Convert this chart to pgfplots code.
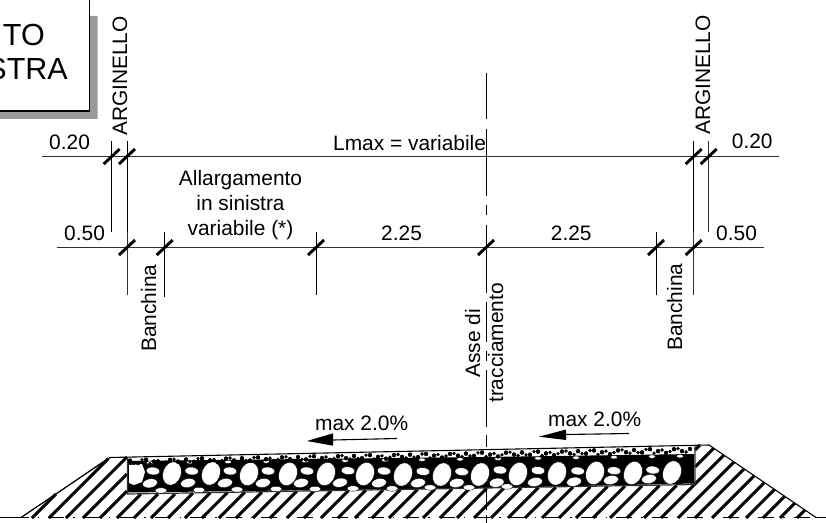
\documentclass[border=0pt]{standalone}
\usepackage{pgfplots}
\pgfplotsset{compat=1.18}
\usepackage{fontspec}
\setmainfont{Liberation Sans}
\definecolor{dimline}{HTML}{303030}
\definecolor{shadow}{HTML}{999999}
\tikzset{
  lbl/.style={font=\fontsize{20.9bp}{24bp}\selectfont, inner sep=0pt},
  big/.style={font=\fontsize{30.5bp}{34bp}\selectfont, inner sep=0pt},
}
\begin{document}
\begin{tikzpicture}
\useasboundingbox (0,0) rectangle (826bp,523bp);
\clip (0,0) rectangle (826bp,523bp);
\begin{axis}[
    at={(0,0)}, anchor=south west,
    scale only axis, width=826bp, height=523bp,
    xmin=0, xmax=826, ymin=0, ymax=523,
    y dir=reverse, hide axis,
    unbounded coords=jump,
]
% title box and its shadow
\addplot[fill=shadow, draw=none] coordinates {(90,16)(97.5,16)(97.5,119)(0,119)(0,111)(90,111)(90,16)};
\addplot[black, line width=1.1bp] coordinates {(89.7,0)(89.7,111)(0,111)};

% dimension lines
\addplot[dimline, line width=1.1bp] coordinates {
 (42,156.3)(779,156.3)(nan,nan)
 (57,247.5)(764,247.5)};

% extension lines
\addplot[black, line width=1.1bp] coordinates {
 (111.7,141)(111.7,232)(nan,nan)
 (127.4,141)(127.4,232)(nan,nan)
 (693.7,141)(693.7,232)(nan,nan)
 (164.7,232)(164.7,297)};
\addplot[black, line width=0.8bp] coordinates {
 (316,232)(316,295)(nan,nan)
 (656,232)(656,295)};
\addplot[dimline, line width=1bp] coordinates {
 (127.4,232)(127.4,295)(nan,nan)
 (693.7,232)(693.7,295)(nan,nan)
 (708.7,141)(708.7,232)};

% slashes
\addplot[black, line width=2.9bp] coordinates {
 (103.7,164)(119.7,149)(nan,nan)
 (119,164)(135,149)(nan,nan)
 (685.7,164)(701.7,149)(nan,nan)
 (700.7,164)(716.7,149)(nan,nan)
 (119,255)(135,240)(nan,nan)
 (156.7,255)(172.7,240)(nan,nan)
 (308,255)(324,240)(nan,nan)
 (478,255)(494,240)(nan,nan)
 (648,255)(664,240)(nan,nan)
 (685.7,255)(701.7,240)};

% centre line
\addplot[black, line width=0.8bp] coordinates {
 (486,73)(486,119)(nan,nan)
 (486,129)(486,196)(nan,nan)
 (486,205)(486,215)(nan,nan)
 (486,225)(486,293)(nan,nan)
 (486,302)(486,342)(nan,nan)
 (486,351)(486,361)(nan,nan)
 (486,370)(486,427)(nan,nan)
 (486,435)(486,447)(nan,nan)
 (486,455)(486,510)(nan,nan)
 (486,515)(486,523)};

% hatching of the embankment
\addplot[black, line width=2.9bp] coordinates {
 (32,518)(56,494)(nan,nan)
 (49,518)(108.5,458.5)(nan,nan)
 (66,518)(127,457)(nan,nan)
 (83,518)(127,474)(nan,nan)
 (100,518)(127,491)(nan,nan)
 (117,518)(141,494)(nan,nan)
 (134,518)(158,494)(nan,nan)
 (151,518)(175,494)(nan,nan)
 (168,518)(193,493)(nan,nan)
 (185,518)(210.3,492.7)(nan,nan)
 (202,518)(227.5,492.5)(nan,nan)
 (219,518)(245,492)(nan,nan)
 (236,518)(262,492)(nan,nan)
 (253,518)(279.4,491.6)(nan,nan)
 (270,518)(296.7,491.3)(nan,nan)
 (287,518)(314,491)(nan,nan)
 (304,518)(331.2,490.8)(nan,nan)
 (321,518)(348.5,490.5)(nan,nan)
 (338,518)(365.8,490.2)(nan,nan)
 (355,518)(383,490)(nan,nan)
 (372,518)(400.4,489.6)(nan,nan)
 (389,518)(417.7,489.3)(nan,nan)
 (406,518)(435,489)(nan,nan)
 (423,518)(452,489)(nan,nan)
 (440,518)(469.3,488.7)(nan,nan)
 (457,518)(486.6,488.4)(nan,nan)
 (474,518)(503.9,488.1)(nan,nan)
 (491,518)(521.2,487.8)(nan,nan)
 (508,518)(538.5,487.5)(nan,nan)
 (525,518)(555.8,487.2)(nan,nan)
 (542,518)(573,487)(nan,nan)
 (559,518)(590.3,486.7)(nan,nan)
 (576,518)(607.6,486.4)(nan,nan)
 (593,518)(624.8,486.2)(nan,nan)
 (610,518)(642.1,485.9)(nan,nan)
 (627,518)(659.4,485.6)(nan,nan)
 (644,518)(676.7,485.3)(nan,nan)
 (661,518)(724,455)(nan,nan)
 (678,518)(734,462)(nan,nan)
 (695,518)(744,469)(nan,nan)
 (712,518)(754,476)(nan,nan)
 (729,518)(764.5,482.5)(nan,nan)
 (746,518)(774.6,489.4)(nan,nan)
 (763,518)(784.7,496.3)(nan,nan)
 (780,518)(794.8,503.2)(nan,nan)
 (797,518)(805,510)(nan,nan)
 (695,467)(713.7,448.3)(nan,nan)
 (695,450)(700,445)};

% ground
\addplot[black, line width=1.1bp] coordinates {(0,517.7)(21,517.7)(nan,nan)(816,517.7)(826,517.7)};
\addplot[black, line width=1.1bp, dash pattern=on 16bp off 9bp on 1.5bp off 9bp, dash phase=-27bp] coordinates {(21,517.7)(816,517.7)};

% slopes
\addplot[black, line width=1.1bp] coordinates {(21,517.5)(110,457.5)(709,445)(816,517.5)};
\addplot[black, line width=0.8bp] coordinates {(21,517.5)(53,496)(107,459)};

% macadam layer
\addplot[fill=black, draw=none] coordinates {(128,461)(486,457)(694,454)(694,483.5)(486,488)(128,492.5)(128,461)};

% large stones
\addplot[only marks, mark=*, mark size=12bp, mark options={fill=white, draw=none, rotate=-20, xscale=0.76}] coordinates {
 (172,473.5)(211,473.5)(249,474)(288,474)(326,474)(365,474)(403,474.5)(442,474.5)(480,474.5)(518,474)(557,473.5)(595,473)(633,473)(672,472.5)};
\addplot[fill=white, draw=none] coordinates {(129,465)(142,464)(145,472)(142,482)(134,485)(129,483)(129,465)};

% small stones, upper row
\addplot[only marks, mark=*, mark size=6.8bp, mark options={fill=white, draw=none, rotate=-5, yscale=0.58}] coordinates {
 (153,471)(191.7,471)(230,471)(268,471)(307,471)(348,470.7)(384,471)(423,471.5)(461.7,471.7)(500,470)(538,470.5)(577.7,471)(614,470.7)(652.7,470)};
% small stones, lower row
\addplot[only marks, mark=*, mark size=7.5bp, mark options={fill=white, draw=none, rotate=10, yscale=0.6}] coordinates {
 (150,483.3)(188,483)(225,483)(263,483)(301,483)(340,482.7)(379,483)(418,483)(456.7,483)(496.7,482.7)(535,482)(574,481.7)(611,480)(649,479)};
% bumps at the foot of the layer
\addplot[only marks, mark=*, mark size=6bp, mark options={fill=white, draw=none, yscale=0.45}] coordinates {
 (161,490.5)(199,490)(237,489.5)(276,489)(315,489)(353,488.5)(392,488.5)(430,487.5)(469,487.5)(507,486.5)};
% arcs under the gravel
\addplot[only marks, mark=*, mark size=3.5bp, mark options={fill=white, draw=none, yscale=0.5}] coordinates {
 (150,462.8)(190,462.3)(228,461.9)(266,461.5)(305,461)(345,460.6)(385,460.1)(422,459.7)(460,459.3)(498,458.8)(538,458.3)(576,457.7)(614,457.2)(652,456.6)(680,456.2)};

% outline of the pavement
\addplot[dimline, line width=1.2bp] coordinates {(127.4,457)(127.4,494)(695,484.5)(695,445)};

% gravel on top
\addplot[only marks, mark=*, mark size=2bp, mark options={fill=black, draw=none}] coordinates {
 (130,460.6)(138,462.9)(146,459.7)(154,461.6)(162,463.4)(170,459.8)(178,461.6)(186,459.5)(194,461.8)(202,458.3)
 (210,460.4)(218,462.2)(226,458.6)(234,460.4)(242,458.2)(250,460.6)(258,457.4)(266,459.2)(274,461.1)(282,457.4)
 (290,459.2)(298,457.1)(306,459.4)(314,456.2)(322,458.1)(330,459.9)(338,456.2)(346,458.1)(354,455.9)(362,458.2)
 (370,455.1)(378,456.9)(386,458.7)(394,455.1)(402,456.9)(410,454.7)(418,457.1)(426,453.9)(434,455.7)(442,457.6)
 (450,453.9)(458,455.7)(466,453.6)(474,455.9)(482,452.7)(490,454.6)(498,456.4)(506,452.7)(514,454.6)(522,452.4)
 (530,454.7)(538,451.6)(546,453.4)(554,455.2)(562,451.6)(570,453.4)(578,451.2)(586,453.6)(594,450.4)(602,452.2)
 (610,454.1)(618,450.4)(626,452.2)(634,450.1)(642,452.4)(650,449.2)(658,451.1)(666,452.9)(674,449.2)(682,451.1)(690,448.9)};
\addplot[only marks, mark=*, mark size=1.5bp, mark options={fill=black, draw=none}] coordinates {
 (134,463)(142,459.8)(150,463.7)(158,460.5)(166,461.8)(174,459.2)(182,462.5)
 (190,461.8)(198,458.7)(206,462.5)(214,459.3)(222,460.7)(230,458)(238,461.3)
 (246,460.7)(254,457.5)(262,461.3)(270,458.2)(278,459.5)(286,456.8)(294,460.2)
 (302,459.5)(310,456.3)(318,460.2)(326,457)(334,458.3)(342,455.7)(350,459)
 (358,458.3)(366,455.2)(374,459)(382,455.8)(390,457.2)(398,454.5)(406,457.8)
 (414,457.1)(422,454)(430,457.8)(438,454.6)(446,456)(454,453.3)(462,456.6)
 (470,456)(478,452.8)(486,456.6)(494,453.5)(502,454.8)(510,452.1)(518,455.5)
 (526,454.8)(534,451.6)(542,455.5)(550,452.3)(558,453.6)(566,451)(574,454.3)
 (582,453.6)(590,450.5)(598,454.3)(606,451.1)(614,452.5)(622,449.8)(630,453.1)
 (638,452.5)(646,449.3)(654,453.1)(662,450)(670,451.3)(678,448.6)(686,452)};

% slope arrows
\addplot[fill=black, draw=none] coordinates {(307,441)(333,433.3)(333,445.7)(307,441)};
\addplot[black, line width=1.1bp] coordinates {(333,440)(397,438.5)};
\addplot[fill=black, draw=none] coordinates {(539,436.7)(566,429.5)(566,440)(539,436.7)};
\addplot[black, line width=1.1bp] coordinates {(566,434.5)(629,433.5)};

% labels
\node[big, anchor=base east] at (axis cs:45,46) {TO};
\node[big, anchor=base east] at (axis cs:68,79.5) {STRA};
\node[lbl, anchor=base west] at (axis cs:49,149) {0.20};
\node[lbl, anchor=base west] at (axis cs:731.7,148.5) {0.20};
\node[lbl, anchor=base west] at (axis cs:64,240) {0.50};
\node[lbl, anchor=base west] at (axis cs:716,240) {0.50};
\node[lbl, anchor=base west] at (axis cs:381,240) {2.25};
\node[lbl, anchor=base west] at (axis cs:550.7,240) {2.25};
\node[lbl, anchor=base west] at (axis cs:333,150) {Lmax = variabile};
\node[lbl, anchor=base] at (axis cs:240.5,185) {Allargamento};
\node[lbl, anchor=base] at (axis cs:240.5,210) {in sinistra};
\node[lbl, anchor=base] at (axis cs:240.5,235) {variabile (*)};
\node[lbl, anchor=base west] at (axis cs:315,430) {max 2.0\%};
\node[lbl, anchor=base west] at (axis cs:548,426) {max 2.0\%};
\node[lbl, rotate=90, anchor=base west] at (axis cs:127,136) {ARGINELLO};
\node[lbl, rotate=90, anchor=base west] at (axis cs:710,135) {ARGINELLO};
\node[lbl, rotate=90, anchor=base west] at (axis cs:156,352) {Banchina};
\node[lbl, rotate=90, anchor=base west] at (axis cs:682,351) {Banchina};
\node[lbl, rotate=90, anchor=base west] at (axis cs:480,378) {Asse di};
\node[lbl, rotate=90, anchor=base west] at (axis cs:503,403) {tracciamento};
\end{axis}
\end{tikzpicture}
\end{document}
